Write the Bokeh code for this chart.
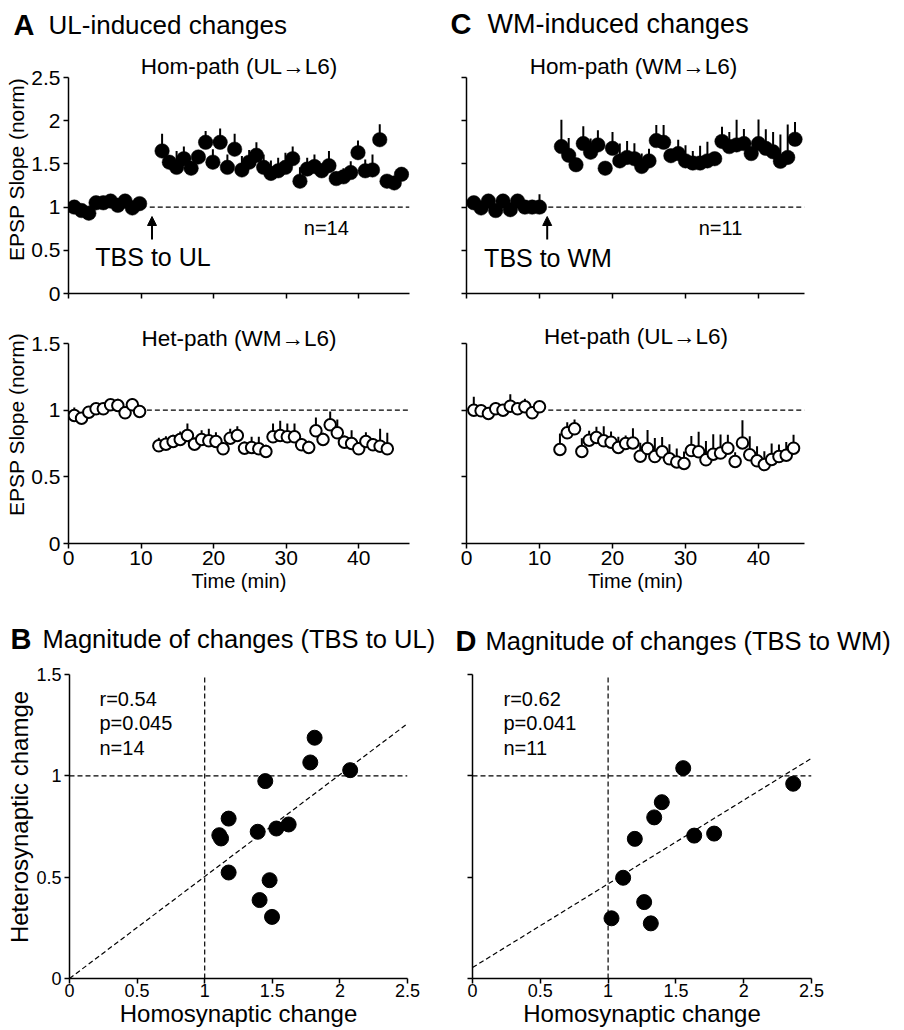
import math
from bokeh.plotting import figure
from bokeh.layouts import column, row
from bokeh.models import Label, Arrow, NormalHead, FixedTicker, CustomJSTickFormatter
from bokeh.core.properties import value
from bokeh.embed import file_html
from bokeh.resources import INLINE

FONT = "Liberation Sans"

# ---------------- data ----------------
# Panel A (TBS to UL) - homosynaptic path (UL -> L6), filled circles
a_hom_t = [0.8, 1.8, 2.8, 3.8, 4.8, 5.8, 6.8, 7.8, 8.8, 9.8,
           12.9, 13.9, 14.9, 15.9, 16.9, 17.9, 18.9, 19.9, 20.9, 21.9, 22.9, 23.9,
           24.9, 25.9, 26.9, 27.9, 28.9, 29.9, 30.9, 31.9, 32.9, 33.9, 34.9, 35.9,
           36.9, 37.9, 38.9, 39.9, 40.9, 41.9, 42.9, 43.9, 44.9, 45.9]
a_hom_v = [1.00, 0.96, 0.93, 1.05, 1.05, 1.07, 1.02, 1.07, 0.99, 1.04,
           1.65, 1.52, 1.46, 1.56, 1.45, 1.58, 1.75, 1.52, 1.75, 1.46, 1.67, 1.43,
           1.52, 1.60, 1.46, 1.39, 1.42, 1.46, 1.56, 1.30, 1.44, 1.47, 1.42, 1.48,
           1.33, 1.35, 1.40, 1.63, 1.42, 1.43, 1.78, 1.30, 1.28, 1.38]
a_hom_e = [0.03, 0.03, 0.03, 0.03, 0.04, 0.03, 0.03, 0.03, 0.03, 0.03,
           0.20, 0.08, 0.19, 0.14, 0.08, 0.06, 0.13, 0.15, 0.16, 0.15, 0.18, 0.16,
           0.14, 0.15, 0.15, 0.15, 0.15, 0.17, 0.14, 0.16, 0.13, 0.14, 0.08, 0.17,
           0.08, 0.10, 0.13, 0.14, 0.13, 0.18, 0.18, 0.06, 0.06, 0.08]

# Panel A - heterosynaptic path (WM -> L6), open circles
a_het_t = [0.8, 1.8, 2.8, 3.8, 4.8, 5.8, 6.8, 7.8, 8.8, 9.8,
           12.45, 13.43, 14.42, 15.4, 16.39, 17.37, 18.35, 19.34, 20.32, 21.31, 22.29,
           23.27, 24.26, 25.24, 26.23, 27.21, 28.19, 29.18, 30.16, 31.15, 32.13, 33.11,
           34.1, 35.08, 36.07, 37.05, 38.03, 39.02, 40.0, 40.99, 41.97, 42.95, 43.94]
a_het_v = [0.96, 0.94, 0.985, 1.01, 1.01, 1.04, 1.035, 0.98, 1.04, 0.99,
           0.733, 0.745, 0.765, 0.78, 0.81, 0.745, 0.78, 0.77, 0.765, 0.71, 0.79,
           0.81, 0.715, 0.72, 0.71, 0.69, 0.80, 0.81, 0.80, 0.80, 0.74, 0.72,
           0.845, 0.78, 0.89, 0.83, 0.76, 0.75, 0.71, 0.765, 0.74, 0.73, 0.71]
a_het_e = [0.06, 0.03, 0.03, 0.03, 0.04, 0.03, 0.05, 0.04, 0.05, 0.03,
           0.06, 0.06, 0.05, 0.06, 0.09, 0.05, 0.07, 0.09, 0.07, 0.05, 0.07,
           0.07, 0.05, 0.08, 0.09, 0.05, 0.10, 0.11, 0.10, 0.10, 0.05, 0.05,
           0.10, 0.05, 0.10, 0.10, 0.05, 0.10, 0.05, 0.07, 0.05, 0.13, 0.12]

# Panel C (TBS to WM) - homosynaptic path (WM -> L6)
c_hom_t = [1, 2, 3, 4, 5, 6, 7, 8, 9, 10,
           13, 14, 15, 16, 17, 18, 19, 20, 21, 22, 23, 24, 25, 26, 27, 28, 29,
           30, 31, 32, 33, 34, 35, 36, 37, 38, 39, 40, 41, 42, 43, 44, 45]
c_hom_v = [1.05, 0.99, 1.07, 0.96, 1.07, 0.97, 1.07, 1.00, 1.00, 1.00,
           1.70, 1.60, 1.49, 1.735, 1.635, 1.72, 1.45, 1.68, 1.535, 1.575, 1.56,
           1.47, 1.535, 1.77, 1.75, 1.595, 1.62, 1.535, 1.51, 1.51, 1.535, 1.56,
           1.76, 1.70, 1.72, 1.735, 1.62, 1.735, 1.68, 1.64, 1.53, 1.575, 1.785]
c_hom_e = [0.03, 0.03, 0.03, 0.03, 0.03, 0.03, 0.03, 0.03, 0.03, 0.15,
           0.31, 0.20, 0.07, 0.20, 0.16, 0.17, 0.06, 0.19, 0.20, 0.19, 0.18,
           0.15, 0.14, 0.18, 0.20, 0.07, 0.16, 0.18, 0.14, 0.20, 0.22, 0.07,
           0.17, 0.17, 0.29, 0.17, 0.07, 0.28, 0.22, 0.23, 0.31, 0.38, 0.20]

# Panel C - heterosynaptic path (UL -> L6)
c_het_t = [1, 2, 3, 4, 5, 6, 7, 8, 9, 10,
           12.8, 13.8, 14.8, 15.8, 16.8, 17.8, 18.8, 19.8, 20.8, 21.8, 22.8, 23.8,
           24.8, 25.8, 26.8, 27.8, 28.8, 29.8, 30.8, 31.8, 32.8, 33.8, 34.8, 35.8,
           36.8, 37.8, 38.8, 39.8, 40.8, 41.8, 42.8, 43.8, 44.8]
c_het_v = [1.00, 0.995, 0.975, 1.01, 1.00, 1.03, 1.01, 1.025, 0.98, 1.025,
           0.705, 0.83, 0.86, 0.69, 0.775, 0.795, 0.77, 0.76, 0.72, 0.75, 0.754,
           0.655, 0.712, 0.652, 0.688, 0.635, 0.612, 0.60, 0.697, 0.688, 0.628,
           0.67, 0.678, 0.715, 0.615, 0.754, 0.665, 0.62, 0.592, 0.63, 0.652, 0.662, 0.715]
c_het_e = [0.10, 0.04, 0.03, 0.05, 0.03, 0.09, 0.03, 0.06, 0.03, 0.03,
           0.12, 0.08, 0.07, 0.10, 0.07, 0.08, 0.11, 0.08, 0.08, 0.06, 0.11,
           0.10, 0.14, 0.14, 0.11, 0.11, 0.10, 0.09, 0.11, 0.15, 0.14, 0.15,
           0.14, 0.10, 0.07, 0.17, 0.14, 0.11, 0.10, 0.12, 0.09, 0.10, 0.10]

# Panel B scatter (TBS to UL)
b_hom = [1.108, 1.121, 1.177, 1.177, 1.392, 1.448, 1.406, 1.480, 1.498, 1.530, 1.621, 1.781, 1.813, 2.076]
b_het = [0.707, 0.691, 0.789, 0.523, 0.724, 0.974, 0.387, 0.485, 0.304, 0.740, 0.760, 1.066, 1.188, 1.028]
b_fit = (0.0, 0.503)          # intercept, slope of dashed regression line
b_stats = ["r=0.54", "p=0.045", "n=14"]

# Panel D scatter (TBS to WM)
d_hom = [1.554, 2.365, 1.396, 1.340, 1.197, 1.635, 1.782, 1.111, 1.266, 1.025, 1.315]
d_het = [1.038, 0.961, 0.870, 0.795, 0.689, 0.705, 0.715, 0.497, 0.377, 0.297, 0.272]
d_fit = (0.054, 0.413)
d_stats = ["r=0.62", "p=0.041", "n=11"]

# texts
head_letters_top = ["A", "C"]
head_texts_top = ["UL-induced changes", "WM-induced changes"]
head_letters_bot = ["B", "D"]
head_texts_bot = ["Magnitude of changes (TBS to UL)", "Magnitude of changes (TBS to WM)"]

time_ticks = [0, 10, 20, 30, 40]
hom_ticks = [0, 0.5, 1, 1.5, 2, 2.5]
het_ticks = [0, 0.5, 1, 1.5]
sc_ticks_x = [0, 0.5, 1, 1.5, 2, 2.5]
sc_ticks_y = [0, 0.5, 1, 1.5]

# ---------------- layout geometry (page pixels) ----------------
PAGE_W = 904
COLS = [0, 452]
COL_W = 452
GEO = {}


def make_fig(col, row_y, row_h, fl, fw, frame_bottom, axis_top_px, ytop, xr):
    cx = COLS[col]
    bl = fl - cx
    br = COL_W - bl - fw
    fh = frame_bottom - row_y
    bb = row_h - fh
    pxu = (frame_bottom - axis_top_px) / ytop
    y_end = fh / pxu
    p = figure(width=COL_W, height=row_h, x_range=xr, y_range=(0, y_end),
               min_border_left=bl, min_border_right=br,
               min_border_top=0, min_border_bottom=bb,
               output_backend="svg", toolbar_location=None, title=None,
               background_fill_color="white", border_fill_color="white",
               outline_line_color=None)
    p.grid.visible = False
    p.yaxis[0].bounds = (0, ytop)
    p.xaxis[0].bounds = (xr[0], xr[1])
    GEO[id(p)] = (fl, row_y, fw, fh, xr[0], xr[1], 0, y_end)
    return p


def strip(y0, h):
    p = figure(width=PAGE_W, height=h, x_range=(0, PAGE_W), y_range=(y0 + h, y0),
               min_border_left=0, min_border_right=0, min_border_top=0, min_border_bottom=0,
               x_axis_type=None, y_axis_type=None, output_backend="svg",
               toolbar_location=None, title=None, outline_line_color=None,
               background_fill_color="white", border_fill_color="white")
    p.grid.visible = False
    return p


def style_axes(p, xticks, yticks, xlab, ylab, fsize="19px", xstand=2, ystand=3):
    for ax, ticks, show, st in ((p.xaxis[0], xticks, xlab, xstand), (p.yaxis[0], yticks, ylab, ystand)):
        ax.ticker = FixedTicker(ticks=ticks)
        if show:
            ax.formatter = CustomJSTickFormatter(code="return tick.toString();")
        else:
            ax.formatter = CustomJSTickFormatter(code="return '';")
        ax.axis_line_width = 1.5
        ax.axis_line_color = "black"
        ax.major_tick_line_width = 1.5
        ax.major_tick_line_color = "black"
        ax.major_tick_out = 5
        ax.major_tick_in = 0
        ax.minor_tick_line_color = None
        ax.major_label_text_font = FONT
        ax.major_label_text_color = "black"
        ax.major_label_text_font_size = fsize if show else "0px"
        ax.major_label_standoff = st if show else 0


def axis_title(ax, text, size, standoff):
    ax.axis_label = text
    ax.axis_label_text_font = FONT
    ax.axis_label_text_font_size = size
    ax.axis_label_text_font_style = "normal"
    ax.axis_label_text_color = "black"
    ax.axis_label_standoff = standoff


def lab(p, px, py, text, size, align="left"):
    fl, ft, fw, fh, x0, x1, y0, y1 = GEO[id(p)]
    x = x0 + (px - fl) / fw * (x1 - x0)
    y = y1 - (py - ft) / fh * (y1 - y0)
    p.add_layout(Label(x=x, y=y, text=text, text_font=FONT, text_font_size=size,
                       text_align=align, text_baseline="middle", text_color="black"))


def arrow(p, px, py0, py1):
    fl, ft, fw, fh, x0, x1, y0, y1 = GEO[id(p)]
    x = x0 + (px - fl) / fw * (x1 - x0)
    ya = y1 - (py0 - ft) / fh * (y1 - y0)
    yb = y1 - (py1 - ft) / fh * (y1 - y0)
    p.add_layout(Arrow(end=NormalHead(size=9, fill_color="black", line_color="black", line_width=1),
                       x_start=x, y_start=ya, x_end=x, y_end=yb,
                       line_width=2, line_color="black"))


def ts_panel(p, t, v, e, filled, x_end, dash_start):
    p.line([dash_start, x_end], [1, 1], line_color="black", line_width=1.2, line_dash="5 3")
    p.segment(x0=t, y0=v, x1=t, y1=[a + b for a, b in zip(v, e)],
              line_color="black", line_width=2)
    if filled:
        p.scatter(t, v, marker="circle", size=14.5, fill_color="black", line_color="black", line_width=0.5)
    else:
        p.scatter(t, v, marker="circle", size=11.5, fill_color="white", line_color="black", line_width=2)


# ---------------- heading strip (top) ----------------
s1 = strip(0, 45)
s1.text(x=[13, 450], y=[24, 23], text=head_letters_top, text_font=value(FONT),
        text_font_size=value("29px"), text_font_style=value("bold"),
        text_align=value("left"), text_baseline=value("middle"), text_color="black")
s1.text(x=[48], y=[24], text=head_texts_top[:1], text_font=value(FONT),
        text_font_size=value("26px"), text_font_style=value("normal"),
        text_align=value("left"), text_baseline=value("middle"), text_color="black")
s1.text(x=[487], y=[23], text=head_texts_top[1:], text_font=value(FONT),
        text_font_size=value("27px"), text_font_style=value("normal"),
        text_align=value("left"), text_baseline=value("middle"), text_color="black")

TS_TICK = "21px"

# ---------------- row 1: homosynaptic time courses ----------------
pa = make_fig(0, 45, 260, 68, 341, 293, 77, 2.5, (0, 47))
style_axes(pa, time_ticks, hom_ticks, False, True, fsize=TS_TICK)
axis_title(pa.yaxis[0], "EPSP Slope (norm)", "21px", 0)
ts_panel(pa, a_hom_t, a_hom_v, a_hom_e, True, 47, 11.2)
lab(pa, 238.5, 66, "Hom-path (UL\u2192L6)", "22.5px", align="center")
lab(pa, 152.5, 256, "TBS to UL", "25px", align="center")
lab(pa, 325.8, 227, "n=14", "20px", align="center")
arrow(pa, 151.5, 239, 216)

pc = make_fig(1, 45, 260, 466, 338, 293, 77, 2.5, (0, 46.3))
style_axes(pc, time_ticks, hom_ticks, False, False, fsize=TS_TICK)
ts_panel(pc, c_hom_t, c_hom_v, c_hom_e, True, 46.3, 11.2)
lab(pc, 633, 66, "Hom-path (WM\u2192L6)", "22.5px", align="center")
lab(pc, 547.5, 257, "TBS to WM", "25px", align="center")
lab(pc, 720, 227, "n=11", "20px", align="center")
arrow(pc, 546.7, 239, 216)

# ---------------- row 2: heterosynaptic time courses ----------------
pa2 = make_fig(0, 305, 295, 68, 341, 543, 343, 1.5, (0, 47))
style_axes(pa2, time_ticks, het_ticks, True, True, fsize=TS_TICK)
axis_title(pa2.yaxis[0], "EPSP Slope (norm)", "21px", 0)
axis_title(pa2.xaxis[0], "Time (min)", "20px", 2)
ts_panel(pa2, a_het_t, a_het_v, a_het_e, False, 47, 10.8)
lab(pa2, 238.5, 338, "Het-path (WM\u2192L6)", "22.5px", align="center")

pc2 = make_fig(1, 305, 295, 466, 338, 543, 343, 1.5, (0, 46.3))
style_axes(pc2, time_ticks, het_ticks, True, False, fsize=TS_TICK)
axis_title(pc2.xaxis[0], "Time (min)", "20px", 2)
ts_panel(pc2, c_het_t, c_het_v, c_het_e, False, 46.3, 11.2)
lab(pc2, 635.5, 336, "Het-path (UL\u2192L6)", "22.5px", align="center")

# ---------------- heading strip (bottom) ----------------
s3 = strip(600, 55)
s3.text(x=[10, 455], y=[638, 640], text=head_letters_bot, text_font=value(FONT),
        text_font_size=value("29px"), text_font_style=value("bold"),
        text_align=value("left"), text_baseline=value("middle"), text_color="black")
s3.text(x=[42, 485], y=[638, 640], text=head_texts_bot, text_font=value(FONT),
        text_font_size=value("25.5px"), text_font_style=value("normal"),
        text_align=value("left"), text_baseline=value("middle"), text_color="black")


# ---------------- row 3: scatter panels ----------------
def scatter_panel(p, xs, ys, fit):
    p.line([1, 1], [0, 1.5], line_color="black", line_width=1.2, line_dash="5 3")
    p.line([0, 2.5], [1, 1], line_color="black", line_width=1.2, line_dash="5 3")
    b0, b1 = fit
    p.line([0, 2.5], [b0, b0 + b1 * 2.5], line_color="black", line_width=1.2, line_dash="5 3")
    p.scatter(xs, ys, marker="circle", size=15, fill_color="black", line_color="black")


pb = make_fig(0, 655, 375, 69, 338, 978, 674, 1.5, (0, 2.5))
style_axes(pb, sc_ticks_x, sc_ticks_y, True, True, fsize="18px", xstand=0, ystand=3)
axis_title(pb.yaxis[0], "Heterosynaptic chamge", "24px", 0)
axis_title(pb.xaxis[0], "Homosynaptic change", "24px", 0)
scatter_panel(pb, b_hom, b_het, b_fit)
for i, s in enumerate(b_stats):
    lab(pb, 99, 698 + 24.5 * i, s, "20px")

pd = make_fig(1, 655, 375, 472, 339, 978, 674, 1.5, (0, 2.5))
style_axes(pd, sc_ticks_x, sc_ticks_y, True, False, fsize="18px", xstand=0, ystand=3)
axis_title(pd.xaxis[0], "Homosynaptic change", "24px", 0)
scatter_panel(pd, d_hom, d_het, d_fit)
for i, s in enumerate(d_stats):
    lab(pd, 503, 698 + 24.5 * i, s, "20px")

layout = column(s1, row(pa, pc, spacing=0), row(pa2, pc2, spacing=0), s3,
                row(pb, pd, spacing=0), spacing=0)

open("out.html", "w").write(file_html(layout, INLINE))
